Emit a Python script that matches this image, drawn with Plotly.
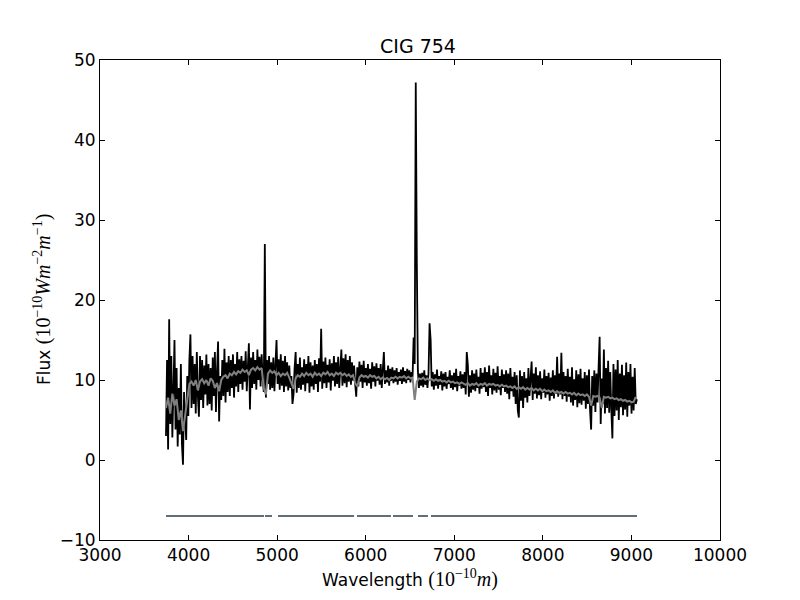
import plotly.graph_objects as go

# ---- data ----
# observed spectrum: uniform wavelength grid (Angstrom)
OBS_START = 3745
OBS_STEP = 12
obs_flux = [
    3.0, 12.5, 1.3, 17.6, 4.5, 13.0, 2.8, 10.5, 15.0, 3.8,
    11.5, 1.7, 9.0, 3.2, 12.0, 2.0, -0.6, 8.5, 4.0, 2.5,
    10.5, 5.5, 12.5, 15.7, 6.5, 13.0, 7.0, 12.0, 5.8, 13.5,
    8.0, 5.4, 13.0, 7.5, 12.5, 6.5, 11.8, 8.2, 13.2, 6.8,
    12.0, 7.0, 11.5, 6.2, 12.8, 8.0, 13.5, 6.0, 11.0, 14.8,
    4.8, 10.5, 7.5, 12.5, 8.0, 13.9, 7.2, 12.2, 8.5, 13.0,
    8.0, 12.5, 9.0, 13.2, 7.8, 12.0, 9.2, 13.5, 8.5, 12.6,
    9.5, 13.0, 8.8, 12.4, 9.8, 13.6, 8.6, 11.5, 14.6, 6.3,
    12.8, 9.0, 13.5, 9.5, 12.5, 8.8, 13.8, 10.0, 12.9, 9.2,
    13.2, 10.0, 8.5, 27.0, 7.8, 12.5, 9.5, 13.0, 8.8, 12.2,
    9.0, 12.8, 8.6, 12.0, 15.0, 9.5, 12.6, 8.8, 13.2, 9.3,
    12.4, 8.5, 13.0, 9.2, 12.2, 8.7, 11.8, 9.0, 10.5, 7.0,
    8.2, 11.5, 13.5, 8.4, 12.0, 9.0, 12.8, 8.8, 11.6, 9.4,
    12.6, 8.6, 12.0, 9.6, 13.0, 8.4, 12.2, 9.2, 11.8, 8.8,
    12.5, 9.5, 12.0, 8.5, 12.7, 9.8, 16.4, 8.9, 12.3, 9.6,
    12.8, 9.0, 11.9, 9.7, 12.6, 8.7, 12.1, 9.9, 13.0, 9.2,
    12.2, 9.5, 12.9, 9.0, 12.4, 13.8, 9.3, 12.7, 9.6, 13.2,
    9.1, 12.5, 9.8, 13.0, 9.4, 12.2, 9.9, 11.8, 9.5, 7.9,
    11.6, 9.2, 12.3, 9.8, 11.9, 9.0, 12.4, 9.7, 11.5, 9.3,
    12.0, 9.6, 11.4, 8.9, 12.2, 9.8, 11.7, 9.2, 12.1, 9.9,
    11.5, 9.4, 12.0, 9.0, 11.3, 13.5, 9.5, 11.2, 9.7, 11.8,
    9.3, 11.4, 9.9, 11.6, 9.6, 11.2, 9.8, 11.5, 9.4, 11.0,
    9.9, 11.3, 9.5, 11.6, 9.8, 11.1, 9.6, 11.4, 10.0, 11.2,
    9.7, 11.0, 10.4, 15.3, 12.0, 47.2, 24.7, 11.2, 9.0, 10.8,
    9.3, 10.9, 9.1, 11.2, 9.4, 10.6, 9.0, 10.8, 17.1, 15.0,
    9.2, 11.0, 8.8, 10.7, 9.3, 11.3, 8.9, 10.5, 9.4, 11.1,
    8.7, 10.8, 9.2, 11.0, 8.9, 10.4, 9.5, 11.2, 9.0, 10.6,
    8.8, 10.9, 9.1, 11.4, 8.6, 10.5, 9.3, 11.1, 8.9, 10.7,
    9.0, 11.0, 8.2, 13.5, 11.9, 7.9, 10.6, 8.4, 11.2, 8.8,
    10.8, 8.6, 11.3, 9.0, 10.4, 8.3, 11.5, 8.9, 10.9, 9.1,
    11.6, 8.5, 11.0, 8.0, 11.8, 9.0, 10.6, 8.2, 11.4, 8.7,
    10.9, 8.4, 11.7, 8.8, 10.5, 8.1, 11.3, 9.0, 10.7, 8.5,
    11.2, 8.3, 10.8, 7.6, 11.5, 8.6, 10.4, 7.9, 11.0, 7.0,
    10.6, 6.2, 5.3, 11.2, 7.4, 10.5, 6.5, 11.0, 7.8, 10.2,
    7.2, 11.5, 8.0, 10.3, 12.3, 7.5, 10.8, 8.3, 11.6, 7.7,
    10.6, 8.1, 11.1, 7.6, 10.2, 8.4, 11.3, 7.8, 10.5, 8.2,
    10.9, 7.4, 10.3, 8.0, 11.2, 7.7, 10.6, 8.3, 12.9, 7.9,
    10.8, 8.2, 13.4, 7.6, 11.0, 8.0, 10.5, 7.3, 11.4, 7.9,
    10.4, 7.2, 11.6, 6.8, 10.1, 7.5, 11.2, 6.6, 10.7, 7.1,
    11.4, 6.9, 10.2, 7.4, 11.0, 6.4, 10.6, 7.0, 11.3, 6.2,
    3.8, 10.5, 6.8, 11.2, 6.0, 10.8, 7.2, 11.6, 15.4, 4.5,
    10.2, 7.0, 13.8, 5.8, 11.5, 6.5, 12.4, 5.9, 11.0, 6.3,
    2.7, 12.0, 5.5, 11.3, 6.2, 12.5, 5.0, 10.8, 6.6, 11.9,
    5.6, 10.6, 6.3, 12.2, 5.4, 11.0, 6.8, 12.0, 5.8, 10.4,
    6.2, 11.5, 7.0, 7.6,
]

# fitted model spectrum
FIT_START = 3745
FIT_STEP = 24
fit_flux = [
    6.5, 7.8, 5.8, 8.3, 6.8, 7.6, 5.0, 6.2, 3.6, 5.5,
    8.0, 9.5, 9.8, 9.3, 10.0, 8.7, 9.8, 10.1, 9.6, 10.0,
    9.3, 10.2, 9.9, 9.0, 9.6, 8.6, 10.0, 10.4, 10.6, 10.2,
    10.8, 10.6, 11.0, 10.7, 11.1, 10.9, 11.3, 11.0, 11.2, 10.6,
    11.3, 11.5, 11.2, 11.6, 11.3, 11.5, 9.0, 8.2, 10.8, 11.2,
    10.9, 11.1, 10.6, 10.9, 10.5, 10.8, 10.6, 10.9, 10.3, 9.5,
    8.9, 10.2, 10.6, 10.4, 10.8, 10.5, 10.9, 10.6, 10.8, 10.4,
    10.9, 10.6, 10.8, 10.5, 10.9, 10.7, 11.0, 10.6, 10.8, 10.5,
    10.9, 10.7, 10.9, 10.6, 10.8, 10.5, 10.7, 10.4, 10.6, 9.6,
    9.2, 10.3, 10.6, 10.4, 10.5, 10.3, 10.6, 10.4, 10.5, 10.2,
    10.4, 10.1, 10.3, 10.1, 10.25, 10.0, 10.3, 10.2, 10.4, 10.2,
    10.4, 10.3, 10.5, 10.2, 10.4, 10.2, 10.3, 7.5, 9.8, 10.2,
    10.1, 10.3, 10.0, 10.2, 10.0, 10.1, 9.9, 10.1, 9.9, 10.0,
    9.8, 9.9, 9.7, 9.9, 9.7, 9.8, 9.6, 9.7, 9.5, 9.7,
    9.5, 9.4, 9.6, 9.3, 9.5, 9.4, 9.6, 9.3, 9.5, 9.4,
    9.6, 9.3, 9.5, 9.4, 9.5, 9.3, 9.4, 9.2, 9.4, 9.2,
    9.3, 9.1, 9.2, 9.0, 9.2, 8.9, 9.1, 8.9, 9.1, 8.8,
    9.0, 8.8, 9.0, 8.7, 8.9, 8.7, 8.9, 8.6, 8.8, 8.6,
    8.7, 8.5, 8.7, 8.4, 8.6, 8.4, 8.5, 8.3, 8.5, 8.3,
    8.4, 8.2, 8.4, 8.1, 8.3, 8.1, 8.2, 8.0, 8.2, 7.9,
    6.8, 8.0, 7.9, 8.0, 7.8, 6.5, 7.9, 7.8, 7.9, 7.7,
    7.8, 7.6, 7.7, 7.5, 7.6, 7.4, 7.5, 7.3, 7.4, 7.2,
    7.3, 7.9,
]

# good-pixel mask segments (start, end in Angstrom) drawn at a fixed level
mask_starts = [3745, 4863, 5010, 5902, 6308, 6590, 6737]
mask_ends = [4852, 4942, 5868, 6285, 6534, 6703, 9063]
MASK_LEVEL = -7

x_ticks = [3000, 4000, 5000, 6000, 7000, 8000, 9000, 10000]
y_ticks = [-10, 0, 10, 20, 30, 40, 50]

# ---- build ----
obs_wave = [OBS_START + OBS_STEP * i for i in range(len(obs_flux))]
fit_wave = [FIT_START + FIT_STEP * i for i in range(len(fit_flux))]

mask_x, mask_y = [], []
for s, e in zip(mask_starts, mask_ends):
    mask_x += [s, e, None]
    mask_y += [MASK_LEVEL, MASK_LEVEL, None]

fig = go.Figure()
fig.add_trace(go.Scatter(x=obs_wave, y=obs_flux, mode="lines",
                         line=dict(color="black", width=1.8), showlegend=False))
fig.add_trace(go.Scatter(x=fit_wave, y=fit_flux, mode="lines",
                         line=dict(color="#808080", width=2), showlegend=False))
fig.add_trace(go.Scatter(x=mask_x, y=mask_y, mode="lines",
                         line=dict(color="#606f78", width=2), showlegend=False))

font = dict(family="DejaVu Sans", size=17, color="black")
math = "font-family:'Liberation Serif';font-size:20px"

axis_common = dict(showgrid=False, zeroline=False, showline=True, linecolor="black",
                   linewidth=1, mirror="allticks", ticks="inside", ticklen=5,
                   tickwidth=1, tickcolor="black", tickfont=font)

# page body adds an 8px offset, so margins are reduced by 8 on left/top
fig.update_layout(
    width=800, height=600,
    paper_bgcolor="white", plot_bgcolor="white",
    margin=dict(l=92, r=88, t=52, b=68),
    title=dict(text="CIG 754", x=0.5125, xanchor="center", y=1 - 38 / 600,
               yanchor="middle", yref="container",
               font=dict(family="DejaVu Sans", size=19, color="black")),
    xaxis=dict(range=[3000, 10000], tickvals=x_ticks,
               ticktext=[str(v) for v in x_ticks], ticklabelstandoff=0, **axis_common),
    yaxis=dict(range=[-10, 50], tickvals=y_ticks,
               ticktext=[str(v).replace("-", "\u2212") for v in y_ticks],
               ticklabelstandoff=0, **axis_common),
    annotations=[
        dict(text=("Wavelength <span style=\"" + math + "\">(10<sup>\u221210</sup><i>m</i>)</span>"),
             xref="paper", yref="paper", x=0.5, y=0, yshift=-38, xanchor="center",
             yanchor="middle", showarrow=False, font=font),
        dict(text=("Flux <span style=\"" + math + "\">(10<sup>\u221210</sup><i>Wm</i><sup>\u22122</sup>"
                   "<i>m</i><sup>\u22121</sup>)</span>"),
             xref="paper", yref="paper", x=0, xshift=-58, y=0.5, xanchor="center",
             yanchor="middle", textangle=-90, showarrow=False, font=font),
    ],
)

fig.write_html("out.html")
